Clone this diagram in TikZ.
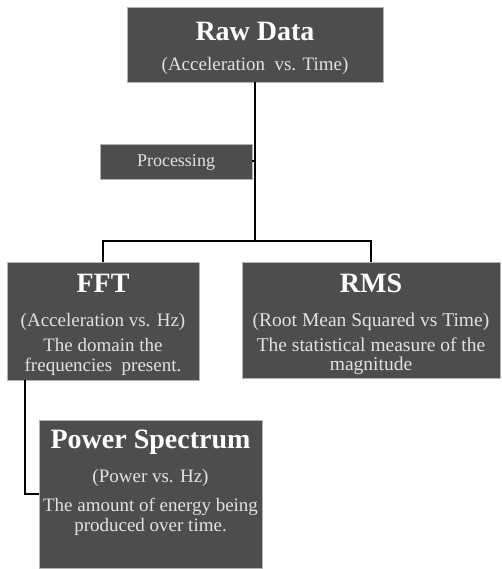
\documentclass[tikz,border=0pt]{standalone}
\usepackage{fontspec}
\setmainfont{Liberation Serif}
\definecolor{boxfill}{HTML}{4D4D4D}
\definecolor{boxline}{HTML}{B4B4B4}
\definecolor{subtext}{HTML}{E2E2E2}
\tikzset{
  box/.style={draw=boxline, line width=0.8pt, fill=boxfill, rectangle, inner sep=0pt},
  ttl/.style={text=white, font=\fontsize{28}{30}\selectfont\bfseries, inner sep=0pt},
  sub/.style={text=subtext, font=\fontsize{19}{20}\selectfont, inner sep=0pt, align=center},
  conn/.style={draw=black, line width=2pt}
}
\begin{document}
\begin{tikzpicture}[x=1pt,y=-1pt]
\useasboundingbox (0,0) rectangle (501,569);
% boxes
\node[box, minimum width=256pt, minimum height=75pt] (raw) at (255,44.5) {};
\node[box, minimum width=152pt, minimum height=35pt] (proc) at (176,161.5) {};
\node[box, minimum width=192pt, minimum height=118pt] (fft) at (103,321) {};
\node[box, minimum width=258pt, minimum height=116pt] (rms) at (371,320) {};
\node[box, minimum width=223pt, minimum height=148pt] (ps) at (150.5,494) {};
% texts
\node[ttl] (rawt) at (255,31) {Raw Data};
\node[sub] (raws) at (255,66) {(Acceleration~ vs. Time)};
\node[sub, font=\fontsize{18}{22}\selectfont] (proct) at (176,162) {Processing};
\node[ttl] (fftt) at (103,283) {FFT};
\node[sub] (ffts) at (103,322) {(Acceleration vs. Hz)};
\node[sub] (fftl) at (103,357) {The domain the\\frequencies~ present.};
\node[ttl] (rmst) at (371,283) {RMS};
\node[sub, font=\fontsize{19.5}{20}\selectfont] (rmss) at (371,322) {(Root Mean Squared vs Time)};
\node[sub, font=\fontsize{19.5}{19}\selectfont] (rmsl) at (371,356.5) {The statistical measure of the\\magnitude};
\node[ttl] (pst) at (150.5,442) {Power Spectrum};
\node[sub] (pss) at (150.5,478) {(Power vs. Hz)};
\node[sub] (psl) at (150.5,517) {The amount of energy being\\produced over time.};
% connectors
\coordinate (j) at (255,241);
\coordinate (fftout) at (25,380);
\draw[conn] (raw.south) -- (j);
\draw[conn] (fft.north) |- (j) -| (rms.north);
\draw[conn] (proc.east) -- (proc.east -| j);
\draw[conn] (fftout) |- (ps.west);
\end{tikzpicture}
\end{document}
